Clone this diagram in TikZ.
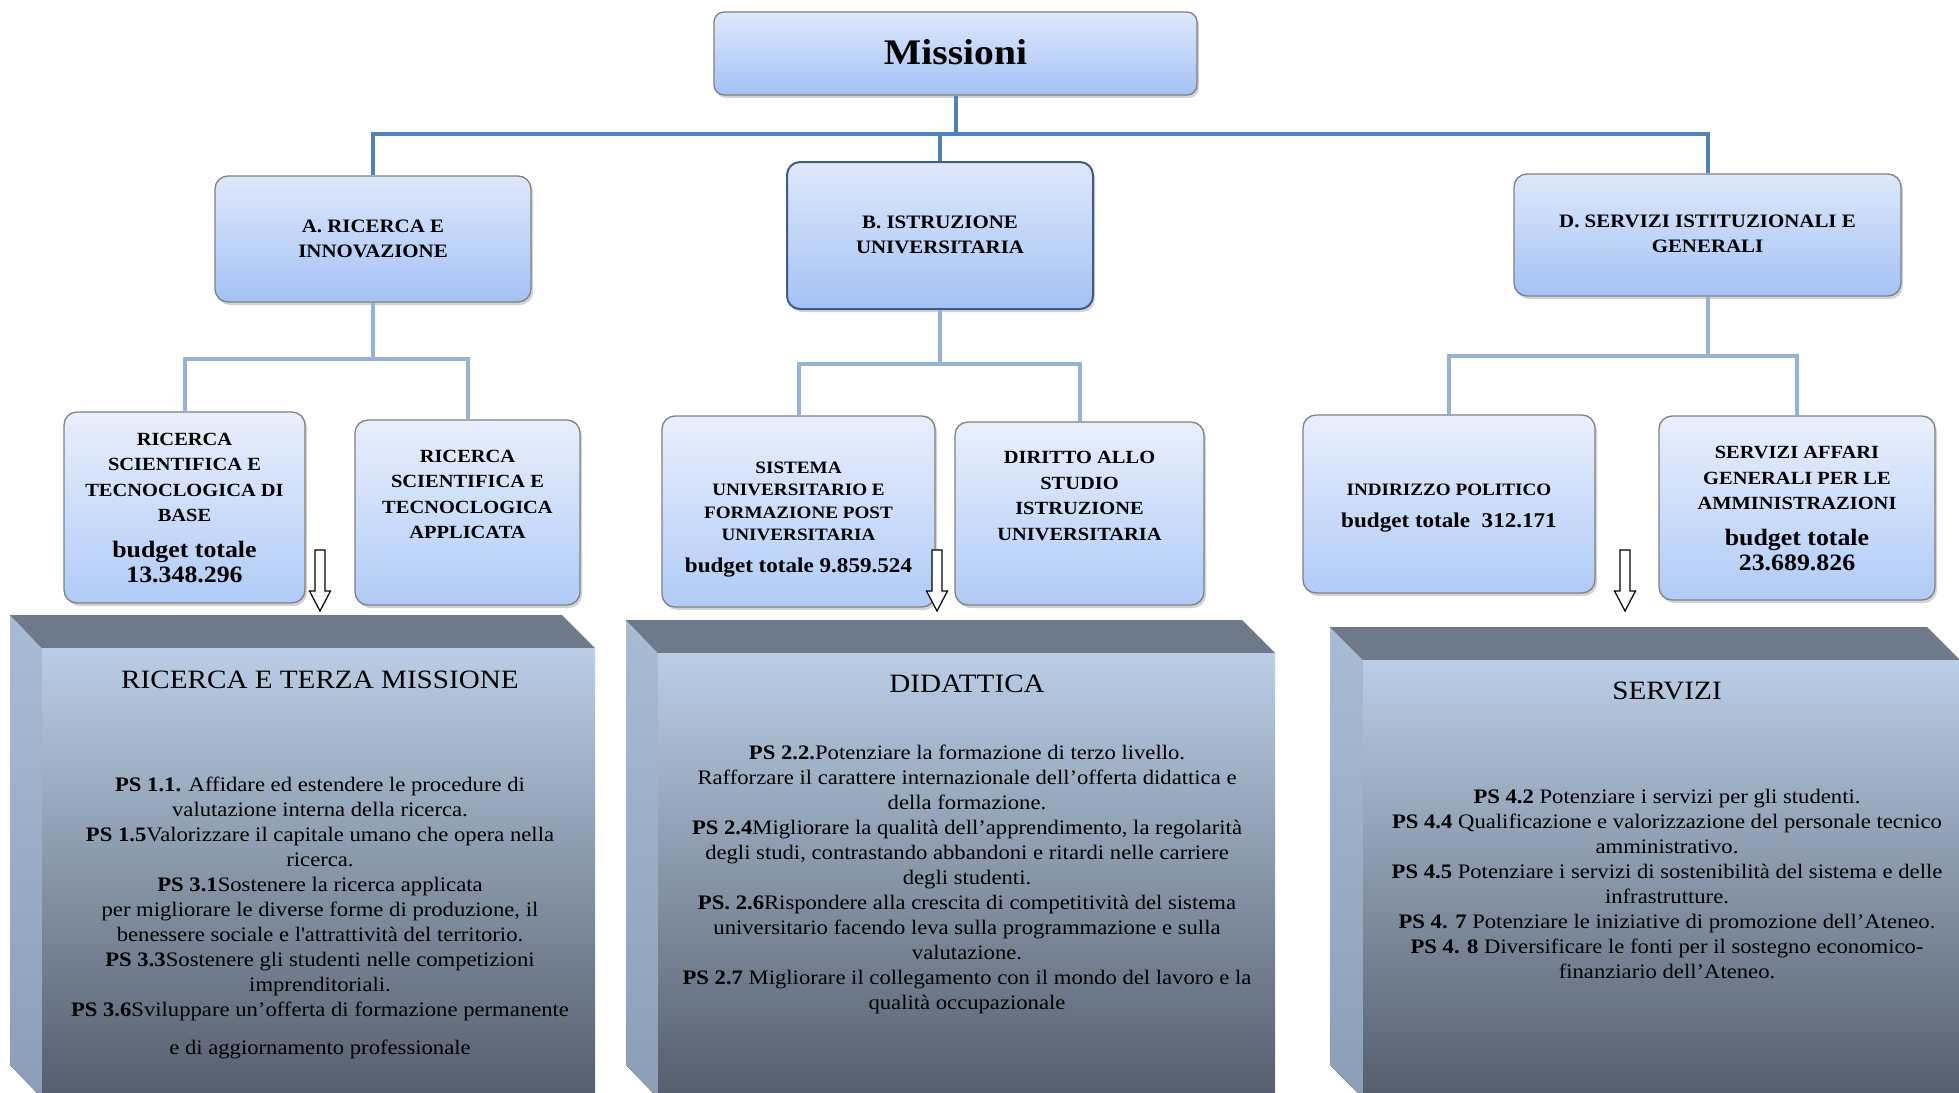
\documentclass[tikz,border=0pt]{standalone}
\usepackage{fontspec}
\setmainfont{Liberation Serif}[FakeStretch=1.1]
\usetikzlibrary{shadows,shadings}
\definecolor{lineA}{RGB}{79,129,189}
\definecolor{lineB}{RGB}{149,179,215}
\definecolor{boxtop}{RGB}{222,232,251}
\definecolor{boxbot}{RGB}{164,194,245}
\definecolor{boxtopL}{RGB}{233,239,252}
\definecolor{boxbotL}{RGB}{176,203,247}
\definecolor{edgegray}{RGB}{128,128,128}
\definecolor{edgeblue}{RGB}{62,92,138}
\definecolor{cubetop}{RGB}{110,122,139}
\definecolor{cubesideT}{RGB}{170,188,212}
\definecolor{cubesideB}{RGB}{140,158,183}
\definecolor{cubefrontT}{RGB}{187,206,230}
\definecolor{cubefrontB}{RGB}{84,93,108}
\newcommand{\budgetfont}{\fontsize{23.5}{25}\selectfont}
\newcommand{\budgetfontsm}{\fontsize{21}{25}\selectfont}
\tikzset{
  boxbase/.style={rounded corners=13pt, draw=edgegray, line width=1.3pt, inner sep=0pt,
    drop shadow={opacity=0.35, shadow xshift=2pt, shadow yshift=-3pt}},
  topbox/.style={boxbase, top color=boxtop, bottom color=boxbot},
  midbox/.style={boxbase, top color=boxtop, bottom color=boxbot},
  selbox/.style={boxbase, draw=edgeblue, line width=2pt, top color=boxtop, bottom color=boxbot},
  leafbox/.style={boxbase, top color=boxtopL, bottom color=boxbotL},
  midtext/.style={font=\bfseries\fontsize{19}{25}\selectfont, align=center, inner sep=0pt},
  leaftext/.style={font=\bfseries\fontsize{18.6}{25.5}\selectfont, align=center, inner sep=0pt},
  smalltext/.style={font=\bfseries\fontsize{17.4}{22.5}\selectfont, align=center, inner sep=0pt},
  conn1/.style={draw=lineA, line width=4pt},
  conn2/.style={draw=lineB, line width=4pt},
  cubeside/.style={top color=cubesideT, bottom color=cubesideB},
  cubetopface/.style={fill=cubetop},
  cubefront/.style={top color=cubefrontT, bottom color=cubefrontB},
  cubetitle/.style={font=\fontsize{26.5}{30}\selectfont, inner sep=0pt},
  cubebody/.style={font=\fontsize{20.6}{25}\selectfont, align=center, inner sep=0pt},
  pics/downarrow/.style={code={
    \draw[fill=white, line width=1.2pt, line join=miter]
      (-5,0) -- (5,0) -- (5,41) -- (10.5,41) -- (0,61) -- (-10.5,41) -- (-5,41) -- cycle;}}
}
\begin{document}
\begin{tikzpicture}[x=1pt,y=-1pt]
\useasboundingbox (0,0) rectangle (1959,1092);

% ---------- 3D boxes ----------
\begin{scope}
\clip (0,0) rectangle (1959,1092);
% box 1
\fill[cubeside] (10,615) -- (42,648) -- (42,1098) -- (10,1065) -- cycle;
\fill[cubetopface] (10,615) -- (562,615) -- (595,648) -- (42,648) -- cycle;
\fill[cubefront] (42,648) rectangle (595,1098);
% box 2
\fill[cubeside] (626,620) -- (658,653) -- (658,1098) -- (626,1065) -- cycle;
\fill[cubetopface] (626,620) -- (1242,620) -- (1275,653) -- (658,653) -- cycle;
\fill[cubefront] (658,653) rectangle (1275,1098);
% box 3
\fill[cubeside] (1330,627) -- (1363,660) -- (1363,1098) -- (1330,1065) -- cycle;
\fill[cubetopface] (1330,627) -- (1927,627) -- (1960,660) -- (1363,660) -- cycle;
\fill[cubefront] (1363,660) rectangle (1960,1098);
\end{scope}

\node[cubetitle] (T1) at (320,680) {RICERCA E TERZA MISSIONE};
\node[cubetitle] (T2) at (967,684) {DIDATTICA};
\node[cubetitle] (T3) at (1667,691) {SERVIZI};

\node[cubebody] (P1) at (320,918) {%
\textbf{PS 1.1.} Affidare ed estendere le procedure di\\
valutazione interna della ricerca.\\
\textbf{PS 1.5}Valorizzare il capitale umano che opera nella\\
ricerca.\\
\textbf{PS 3.1}Sostenere la ricerca applicata\\
per migliorare le diverse forme di produzione, il\\
benessere sociale e l\textquotesingle attrattività del territorio.\\
\textbf{PS 3.3}Sostenere gli studenti nelle competizioni\\
imprenditoriali.\\
\textbf{PS 3.6}Sviluppare un’offerta di formazione permanente\\[13pt]
e di aggiornamento professionale};

\node[cubebody] (P2) at (967,879) {%
\textbf{PS 2.2.}Potenziare la formazione di terzo livello.\\
Rafforzare il carattere internazionale dell’offerta didattica e\\
della formazione.\\
\textbf{PS 2.4}Migliorare la qualità dell’apprendimento, la regolarità\\
degli studi, contrastando abbandoni e ritardi nelle carriere\\
degli studenti.\\
\textbf{PS. 2.6}Rispondere alla crescita di competitività del sistema\\
universitario facendo leva sulla programmazione e sulla\\
valutazione.\\
\textbf{PS 2.7} Migliorare il collegamento con il mondo del lavoro e la\\
qualità occupazionale};

\node[cubebody] (P3) at (1667,883.5) {%
\textbf{PS 4.2} Potenziare i servizi per gli studenti.\\
\textbf{PS 4.4} Qualificazione e valorizzazione del personale tecnico\\
amministrativo.\\
\textbf{PS 4.5} Potenziare i servizi di sostenibilità del sistema e delle\\
infrastrutture.\\
\textbf{PS 4. 7} Potenziare le iniziative di promozione dell’Ateneo.\\
\textbf{PS 4. 8} Diversificare le fonti per il sostegno economico-\\
finanziario dell’Ateneo.};

% ---------- boxes ----------
\node[topbox, rounded corners=10pt, minimum width=483pt, minimum height=83pt] (M) at (955.5,53.5) {};
\node[font=\bfseries\fontsize{36}{40}\selectfont, inner sep=0pt] (Mt) at (955.5,52) {Missioni};

\node[midbox, minimum width=316pt, minimum height=126pt] (A) at (373,239) {};
\node[selbox, minimum width=306pt, minimum height=147pt] (B) at (940,235.5) {};
\node[midbox, minimum width=387pt, minimum height=122pt] (D) at (1707.5,235) {};
\node[midtext] (At) at (373,238.5) {A. RICERCA E\\INNOVAZIONE};
\node[midtext] (Bt) at (940,234.5) {B. ISTRUZIONE\\UNIVERSITARIA};
\node[midtext] (Dt) at (1707.5,233.5) {D. SERVIZI ISTITUZIONALI E\\GENERALI};

\node[leafbox, minimum width=241pt, minimum height=191pt] (A1) at (184.5,507.5) {};
\node[leafbox, minimum width=225pt, minimum height=185pt] (A2) at (467.5,512.5) {};
\node[leafbox, minimum width=273pt, minimum height=191pt] (B1) at (798.5,511.5) {};
\node[leafbox, minimum width=249pt, minimum height=183pt] (B2) at (1079.5,513.5) {};
\node[leafbox, minimum width=292pt, minimum height=178pt] (D1) at (1449,504) {};
\node[leafbox, minimum width=276pt, minimum height=184pt] (D2) at (1797,508) {};

\node[leaftext] (A1t) at (184.5,508) {RICERCA\\SCIENTIFICA E\\TECNOCLOGICA DI\\BASE\\[10pt]
  \budgetfont budget totale\\\budgetfont 13.348.296};
\node[leaftext] (A2t) at (467.5,494.5) {RICERCA\\SCIENTIFICA E\\TECNOCLOGICA\\APPLICATA};
\node[smalltext] (B1t) at (798.5,519.5) {SISTEMA\\UNIVERSITARIO E\\FORMAZIONE POST\\UNIVERSITARIA\\[9pt]
  \budgetfontsm budget totale 9.859.524};
\node[leaftext] (B2t) at (1079.5,496) {DIRITTO ALLO\\STUDIO\\ISTRUZIONE\\UNIVERSITARIA};
\node[smalltext] (D1t) at (1449,508) {INDIRIZZO POLITICO\\[9pt]
  \budgetfontsm budget totale\ \ 312.171};
\node[leaftext] (D2t) at (1797,509) {SERVIZI AFFARI\\GENERALI PER LE\\AMMINISTRAZIONI\\[10pt]
  \budgetfont budget totale\\\budgetfont 23.689.826};

% ---------- connectors ----------
\coordinate (bus0) at (0,134);
\coordinate (busA) at (0,359);
\coordinate (busB) at (0,364);
\coordinate (busD) at (0,356);
\draw[conn1] (M.south) -- (M.south |- bus0);
\draw[conn1] (A.north) -- (A.north |- bus0) -- (D.north |- bus0) -- (D.north);
\draw[conn1] (B.north) -- (B.north |- bus0);

\draw[conn2] (A.south) -- (A.south |- busA);
\draw[conn2] (A1.north) -- (A1.north |- busA) -- (A2.north |- busA) -- (A2.north);
\draw[conn2] (B.south) -- (B.south |- busB);
\draw[conn2] (B1.north) -- (B1.north |- busB) -- (B2.north |- busB) -- (B2.north);
\draw[conn2] (D.south) -- (D.south |- busD);
\draw[conn2] (D1.north) -- (D1.north |- busD) -- (D2.north |- busD) -- (D2.north);

% ---------- down arrows ----------
\pic at (320,550) {downarrow};
\pic at (937,550) {downarrow};
\pic at (1625,550) {downarrow};
\end{tikzpicture}
\end{document}
